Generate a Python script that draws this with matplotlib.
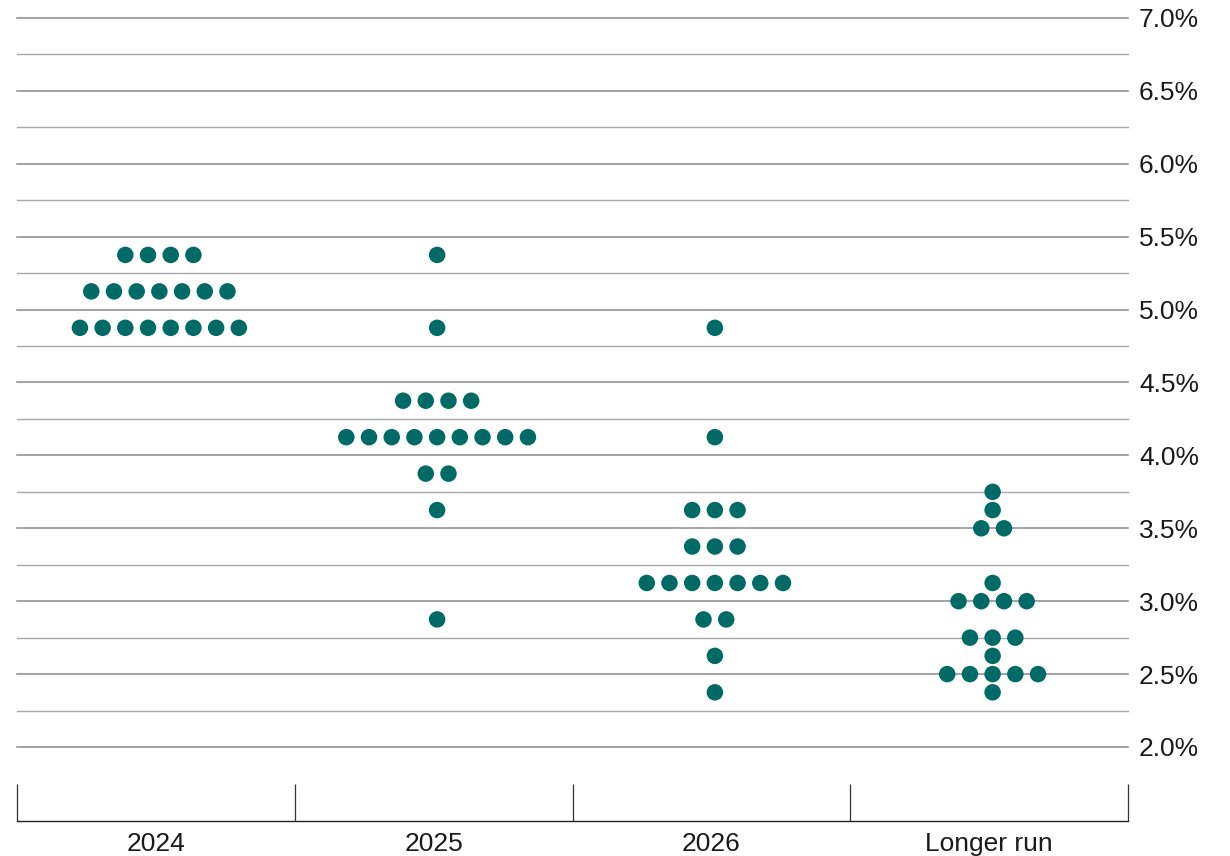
import matplotlib
matplotlib.use("Agg")
import matplotlib.pyplot as plt
import numpy as np

plt.rcParams['font.family'] = ['Liberation Sans', 'DejaVu Sans']

categories = ["2024", "2025", "2026", "Longer run"]
# (rate, count) pairs per category
dots_2024 = [(5.375, 4), (5.125, 7), (4.875, 8)]
dots_2025 = [(5.375, 1), (4.875, 1), (4.375, 4), (4.125, 9), (3.875, 2), (3.625, 1), (2.875, 1)]
dots_2026 = [(4.875, 1), (4.125, 1), (3.625, 3), (3.375, 3), (3.125, 7), (2.875, 2), (2.625, 1), (2.375, 1)]
dots_lr = [(3.75, 1), (3.625, 1), (3.5, 2), (3.125, 1), (3.0, 4), (2.75, 3), (2.625, 1), (2.5, 5), (2.375, 1)]
all_dots = [dots_2024, dots_2025, dots_2026, dots_lr]

grid_levels = np.arange(2.0, 7.0001, 0.25)
tick_levels = np.arange(2.0, 7.0001, 0.5)
tick_labels = [f"{v:.1f}%" for v in tick_levels]

W, H = 1230, 856
fig = plt.figure(figsize=(W / 100, H / 100), dpi=100)
left_px, right_px, top_px, bottom_px = 17, 1128, 18, 821
ax = fig.add_axes([left_px / W, 1 - bottom_px / H, (right_px - left_px) / W, (bottom_px - top_px) / H])

px_per_unit_y = (747 - 18) / 5.0
ymin = 2.0 - (821 - 747) / px_per_unit_y
ax.set_ylim(ymin, 7.0)
ax.set_xlim(-0.5, 3.5)

for lv in grid_levels:
    major = abs((lv * 2) - round(lv * 2)) < 1e-9
    ax.axhline(lv, color='#8a8a8a' if major else '#a8a8a8', lw=1.1 if major else 1.0,
               zorder=1, clip_on=False)

px_per_unit_x = (right_px - left_px) / 4.0
spacing = 22.7 / px_per_unit_x
x_shift = 3.5 / px_per_unit_x
for i, groups in enumerate(all_dots):
    for rate, n in groups:
        xs = i + x_shift + (np.arange(n) - (n - 1) / 2) * spacing
        ax.scatter(xs, [rate] * n, s=(16.5 * 0.72) ** 2, color='#006b66',
                   edgecolors='none', zorder=3)

# bottom category frame
sep_top = 2.0 - (784 - 747) / px_per_unit_y
ax.vlines([-0.5, 0.5, 1.5, 2.5, 3.5], ymin, sep_top, color='#333333', lw=0.9, clip_on=False)

for s in ['top', 'left', 'right']:
    ax.spines[s].set_visible(False)
ax.spines['bottom'].set_color('#222222')
ax.spines['bottom'].set_linewidth(1.0)

ax.set_xticks(range(4))
ax.set_xticklabels(categories, fontsize=19, color='#1a1a1a')
ax.tick_params(axis='x', length=0, pad=8)

ax.yaxis.tick_right()
ax.set_yticks(tick_levels)
ax.set_yticklabels(tick_labels, fontsize=19, color='#1a1a1a')
ax.tick_params(axis='y', length=0, pad=8)

fig.savefig("out.png", dpi=100)
